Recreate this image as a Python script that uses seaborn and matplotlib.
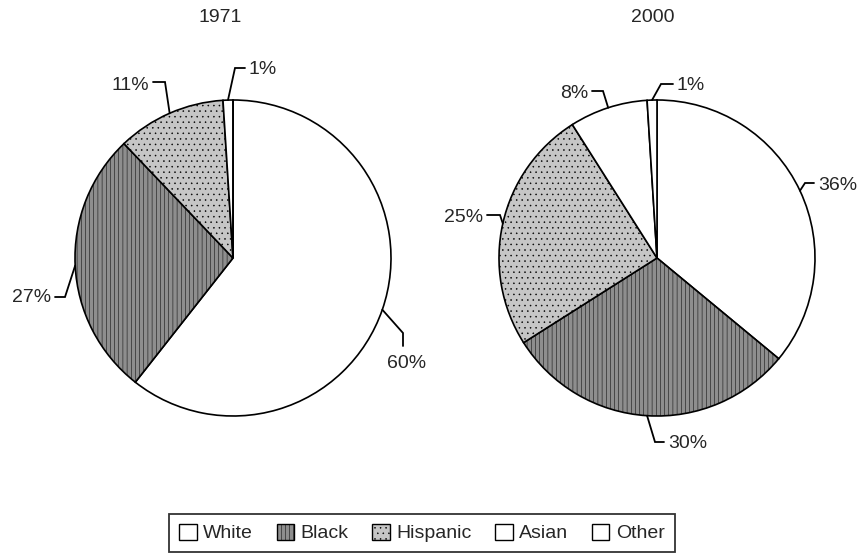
import numpy as np
import matplotlib
matplotlib.use("Agg")
import matplotlib.pyplot as plt
from matplotlib.patches import Patch
import seaborn as sns

# data
categories = ["White", "Black", "Hispanic", "Asian", "Other"]
years = ["1971", "2000"]
values_1971 = [60, 27, 11, 1, 0]
values_2000 = [36, 30, 25, 8, 1]
labels_1971 = ["60%", "27%", "11%", "1%", None]
labels_2000 = ["36%", "30%", "25%", "8%", "1%"]

# greyscale fills like the printed original
fills = ["#ffffff", "#8e8e8e", "#c6c6c6", "#ffffff", "#ffffff"]
hatches = ["", "||||", "...", "", ""]

sns.set_theme(style="white")
plt.rcParams["font.family"] = ["Liberation Sans", "DejaVu Sans"]
plt.rcParams["hatch.linewidth"] = 0.35

W, H = 864, 554
R = 158
centers = [(233, 258), (657, 258)]  # pixel coords, y from top
title_x = [220, 653]

# leader layout per wedge: (elbow, end, text pos, ha) in pixel coords from top
leaders_1971 = [
    ((403, 333), (403, 346), (407, 364), "center"),
    ((65, 297), (55, 297), (51, 298), "right"),
    ((165, 82), (153, 82), (149, 86), "right"),
    ((235, 68), (245, 68), (249, 70), "left"),
    None,
]
leaders_2000 = [
    ((805, 183), (814, 183), (818, 185), "left"),
    ((655, 442), (664, 442), (668, 444), "left"),
    ((500, 215), (487, 215), (483, 218), "right"),
    ((603, 91), (592, 91), (588, 93), "right"),
    ((661, 84), (673, 84), (677, 86), "left"),
]

fig = plt.figure(figsize=(W / 100, H / 100), dpi=100)
ax = fig.add_axes([0, 0, 1, 1])


def flip(p):
    return p[0], H - p[1]


for year, vals, labs, lead, (cx, cy), tx0 in zip(
    years, [values_1971, values_2000], [labels_1971, labels_2000],
    [leaders_1971, leaders_2000], centers, title_x
):
    wedges, _ = ax.pie(
        vals, colors=fills, hatch=hatches, startangle=90, counterclock=False,
        center=(cx, H - cy), radius=R,
        wedgeprops=dict(edgecolor="black", linewidth=1.2),
    )
    ax.text(tx0, H - 17, year, ha="center", va="center", fontsize=14)

    for w, lab, ld in zip(wedges, labs, lead):
        if lab is None or ld is None:
            continue
        mid = np.deg2rad((w.theta1 + w.theta2) / 2)
        px, py = cx + R * np.cos(mid), (H - cy) + R * np.sin(mid)
        elbow, end, tpos, ha = ld
        ex, ey = flip(elbow)
        nx, ny = flip(end)
        ax.plot([px, ex, nx], [py, ey, ny], color="black", lw=1.3,
                solid_joinstyle="miter")
        tx, ty = flip(tpos)
        ax.text(tx, ty, lab, ha=ha, va="center", fontsize=14)

ax.set_xlim(0, W)
ax.set_ylim(0, H)
ax.set_aspect("equal")
ax.axis("off")

handles = [Patch(facecolor=f, edgecolor="black", hatch=h, linewidth=1.0)
           for f, h in zip(fills, hatches)]
leg = fig.legend(
    handles, categories, loc="center", ncol=5,
    bbox_to_anchor=(((166 + 678) / 2) / W, 1 - 533 / H),
    frameon=True, fancybox=False, edgecolor="black", fontsize=14,
    handlelength=0.9, handleheight=0.9, handletextpad=0.35,
    columnspacing=1.2, borderpad=0.5,
)
leg.get_frame().set_linewidth(1.3)

fig.savefig("out.png", dpi=100, facecolor="white")
